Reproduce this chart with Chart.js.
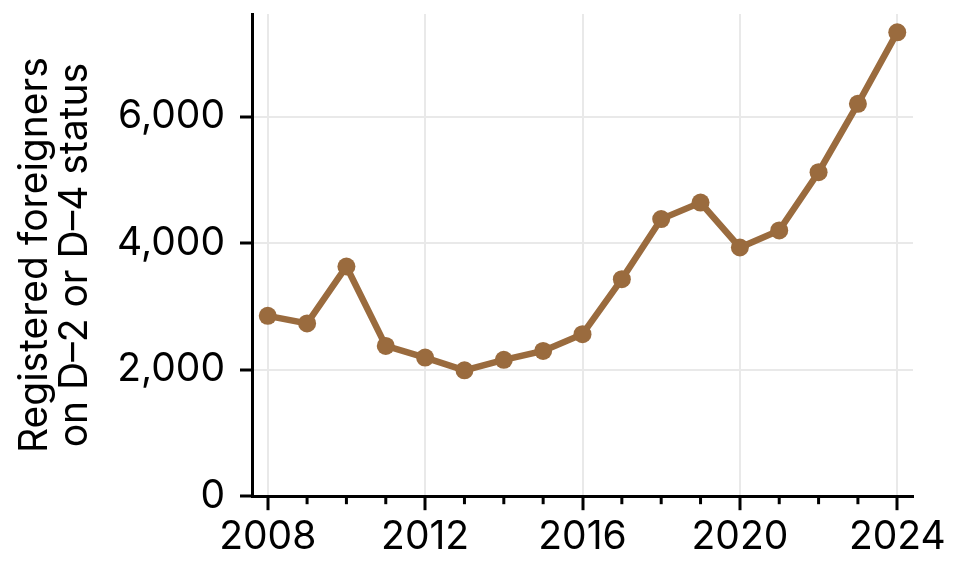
<!DOCTYPE html>
<html>
<head>
<meta charset="utf-8">
<script src="https://cdn.jsdelivr.net/npm/chart.js@4.4.1/dist/chart.umd.min.js"></script>
<style>
  html, body { margin: 0; padding: 0; background: #fff; }
  #wrap { width: 962px; height: 576px; }
</style>
</head>
<body>
<div id="wrap"><canvas id="lineChart" width="962" height="576"></canvas></div>
<script>
// years and counts
var years = [2008, 2009, 2010, 2011, 2012, 2013, 2014, 2015, 2016,
             2017, 2018, 2019, 2020, 2021, 2022, 2023, 2024];
var registered = [2850, 2730, 3630, 2375, 2190, 1990, 2155, 2295, 2560,
                  3430, 4380, 4640, 3930, 4200, 5120, 6200, 7330];
var xTicks = [2008, 2012, 2016, 2020, 2024];
var yTicks = [0, 2000, 4000, 6000];
var yTitle = ["Registered foreigners", "on D\u20132 or D\u20134 status"];

var lineColor = "#9a6b3e";
var gridColor = "#e9e9e9";

Chart.defaults.font.family = "Inter";
Chart.defaults.color = "#000";

// short yearly tick marks between the labelled ones
var minorTicks = {
    id: "minorTicks",
    afterDraw: function (chart) {
        var x = chart.scales.x;
        var ctx = chart.ctx;
        ctx.save();
        ctx.strokeStyle = "#000";
        ctx.lineWidth = 3;
        years.forEach(function (yr) {
            if (xTicks.indexOf(yr) >= 0) return;
            var px = x.getPixelForValue(yr);
            ctx.beginPath();
            ctx.moveTo(px, x.top);
            ctx.lineTo(px, x.top + 8);
            ctx.stroke();
        });
        ctx.restore();
    }
};

var lineChart = new Chart(document.getElementById("lineChart"), {
    type: "line",
    data: {
        labels: years,
        datasets: [{
            data: years.map(function (yr, i) { return {x: yr, y: registered[i]}; }),
            borderColor: lineColor,
            backgroundColor: lineColor,
            borderWidth: 6.5,
            pointRadius: 9,
            pointBorderWidth: 0,
            pointBackgroundColor: lineColor,
            tension: 0,
            clip: false
        }]
    },
    options: {
        responsive: false,
        animation: false,
        layout: {padding: {top: 14, right: 49, bottom: 11, left: 0}},
        plugins: {
            legend: {display: false},
            tooltip: {enabled: false}
        },
        scales: {
            x: {
                type: "linear",
                min: 2007.6,
                max: 2024.4,
                afterBuildTicks: function (scale) {
                    scale.ticks = xTicks.map(function (v) { return {value: v}; });
                },
                afterFit: function (scale) {
                    scale.paddingLeft = 0;
                    scale.paddingRight = 0;
                },
                ticks: {
                    font: {size: 39},
                    padding: 4,
                    maxRotation: 0,
                    callback: function (v) { return String(v); }
                },
                grid: {
                    color: gridColor,
                    lineWidth: 2,
                    tickColor: "#000",
                    tickWidth: 3,
                    tickLength: 14
                },
                border: {color: "#000", width: 3}
            },
            y: {
                min: 0,
                max: 7620,
                afterBuildTicks: function (scale) {
                    scale.ticks = yTicks.map(function (v) { return {value: v}; });
                },
                afterFit: function (scale) {
                    scale.width = 252;
                    scale.paddingTop = 0;
                    scale.paddingBottom = 0;
                },
                ticks: {
                    font: {size: 39},
                    padding: 15
                },
                grid: {
                    color: gridColor,
                    lineWidth: 2,
                    tickColor: "#000",
                    tickWidth: 3,
                    tickLength: 12
                },
                border: {color: "#000", width: 3},
                title: {
                    display: true,
                    text: yTitle,
                    font: {size: 39, lineHeight: 1.03},
                    padding: {top: 15, bottom: 0}
                }
            }
        }
    },
    plugins: [minorTicks]
});
</script>
</body>
</html>
